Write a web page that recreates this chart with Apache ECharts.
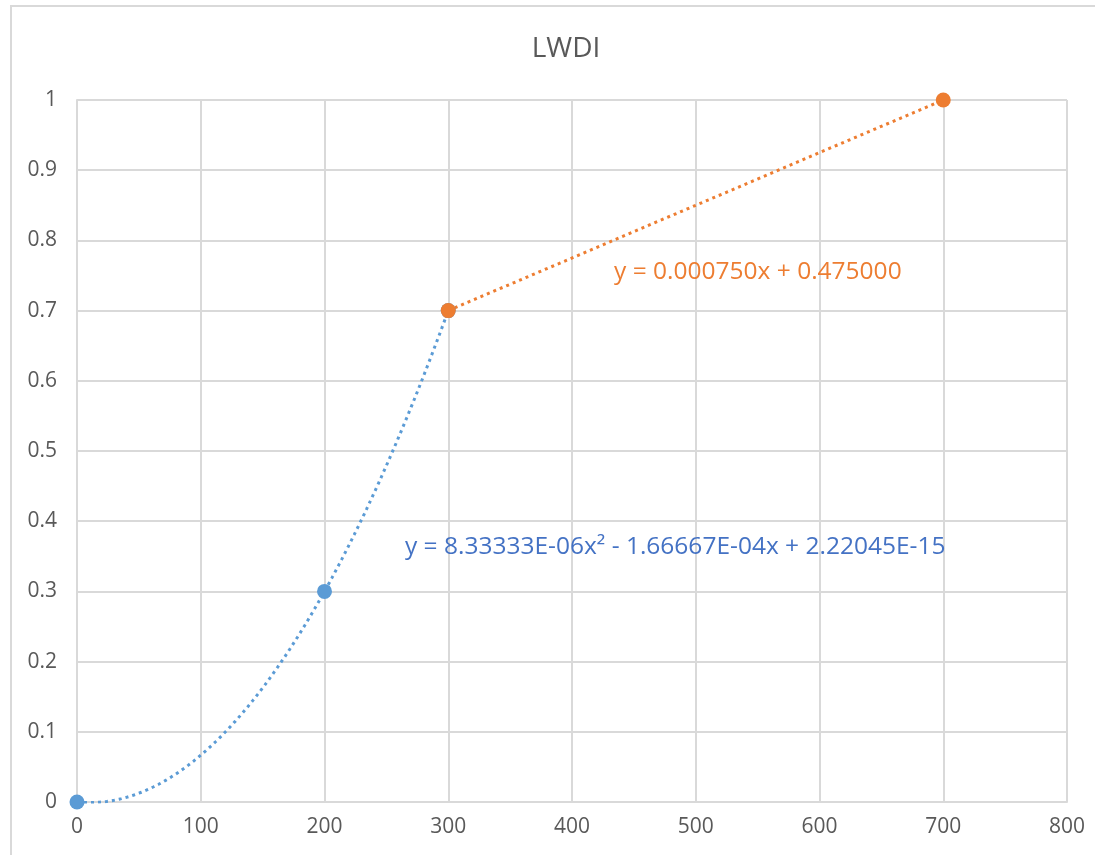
<!DOCTYPE html>
<html>
<head>
<meta charset="utf-8">
<title>LWDI</title>
<script src="https://cdn.jsdelivr.net/npm/echarts@6/dist/echarts.min.js"></script>
<style>
  html, body { margin: 0; padding: 0; background: #ffffff; }
  #chart { width: 1095px; height: 855px; }
</style>
</head>
<body>
<div id="chart"></div>
<script>
// Measured points of the two LWDI segments
const lowSegment = [[0, 0], [200, 0.3], [300, 0.7]];
const highSegment = [[300, 0.7], [700, 1]];

// Fitted trendline coefficients (constant, x, x^2) as printed on the chart
const polyCoef = [2.22045E-15, -1.66667E-04, 8.33333E-06];
const linCoef = [0.475000, 0.000750];

// Trendline ranges (x from, x to)
const polyRange = [0, 300];
const linRange = [300, 700];

// Equation labels and where they sit (data coordinates of the label's left-middle)
const polyLabel = 'y = 8.33333E-06x\u00B2 - 1.66667E-04x + 2.22045E-15';
const linLabel = 'y = 0.000750x + 0.475000';
const polyLabelAt = [265, 0.363];
const linLabelAt = [434, 0.755];

// Axis ticks
const xTicks = [0, 100, 200, 300, 400, 500, 600, 700, 800];
const yTicks = [0, 0.1, 0.2, 0.3, 0.4, 0.5, 0.6, 0.7, 0.8, 0.9, 1];

function evalPoly(coef, x) {
  let y = 0;
  for (let i = coef.length - 1; i >= 0; i--) y = y * x + coef[i];
  return y;
}
function trend(coef, range, step) {
  const pts = [];
  for (let x = range[0]; x <= range[1] + 1e-9; x += step) pts.push([x, evalPoly(coef, x)]);
  return pts;
}

const BLUE = '#5B9BD5';
const ORANGE = '#ED7D31';
const TEXT = '#595959';
const GRID = '#d9d9d9';
const FONT = '"Open Sans", "Noto Sans", sans-serif';

const chart = echarts.init(document.getElementById('chart'), null, { renderer: 'canvas' });

chart.setOption({
  animation: false,
  backgroundColor: '#ffffff',
  title: {
    text: 'LWDI',
    left: 561,
    textAlign: 'center',
    top: 30,
    textStyle: { color: TEXT, fontSize: 28, fontWeight: 'normal', fontFamily: FONT }
  },
  grid: { left: 77, right: 28, top: 100, bottom: 53, containLabel: false },
  xAxis: {
    type: 'value',
    min: xTicks[0],
    max: xTicks[xTicks.length - 1],
    interval: xTicks[1] - xTicks[0],
    axisLine: { show: true, lineStyle: { color: GRID, width: 2 } },
    axisTick: { show: false },
    splitLine: { show: true, lineStyle: { color: GRID, width: 2 } },
    axisLabel: { color: TEXT, fontSize: 21, fontFamily: FONT, margin: 15 }
  },
  yAxis: {
    type: 'value',
    min: yTicks[0],
    max: yTicks[yTicks.length - 1],
    interval: 0.1,
    axisLine: { show: true, lineStyle: { color: GRID, width: 2 } },
    axisTick: { show: false },
    splitLine: { show: true, lineStyle: { color: GRID, width: 2 } },
    axisLabel: {
      color: TEXT, fontSize: 21, fontFamily: FONT, margin: 20,
      formatter: v => String(Math.round(v * 10) / 10)
    }
  },
  series: [
    {
      name: 'low trend',
      type: 'line',
      data: trend(polyCoef, polyRange, 2),
      showSymbol: false,
      symbol: 'none',
      clip: true,
      lineStyle: { color: BLUE, width: 3, type: [3, 4] },
      z: 2
    },
    {
      name: 'high trend',
      type: 'line',
      data: trend(linCoef, linRange, 400),
      showSymbol: false,
      symbol: 'none',
      lineStyle: { color: ORANGE, width: 3, type: [3, 4] },
      z: 2
    },
    {
      name: 'low',
      type: 'scatter',
      data: lowSegment,
      symbolSize: 15,
      itemStyle: { color: BLUE, opacity: 1 },
      clip: false,
      z: 3
    },
    {
      name: 'high',
      type: 'scatter',
      data: highSegment,
      symbolSize: 15,
      itemStyle: { color: ORANGE, opacity: 1 },
      clip: false,
      z: 4
    }
  ]
});

function placeLabels() {
  const p1 = chart.convertToPixel({ gridIndex: 0 }, polyLabelAt);
  const p2 = chart.convertToPixel({ gridIndex: 0 }, linLabelAt);
  chart.setOption({
    graphic: [
      {
        type: 'rect', z: 0, silent: true,
        shape: { x: 11, y: 6, width: 1200, height: 1000 },
        style: { fill: 'none', stroke: GRID, lineWidth: 2 }
      },
      {
        type: 'text', x: p1[0], y: p1[1], z: 10,
        style: { text: polyLabel, fill: '#4472C4', fontSize: 24.5, fontFamily: FONT, verticalAlign: 'middle', align: 'left' }
      },
      {
        type: 'text', x: p2[0], y: p2[1], z: 10,
        style: { text: linLabel, fill: ORANGE, fontSize: 24.5, fontFamily: FONT, verticalAlign: 'middle', align: 'left' }
      }
    ]
  });
}
placeLabels();
</script>
</body>
</html>
